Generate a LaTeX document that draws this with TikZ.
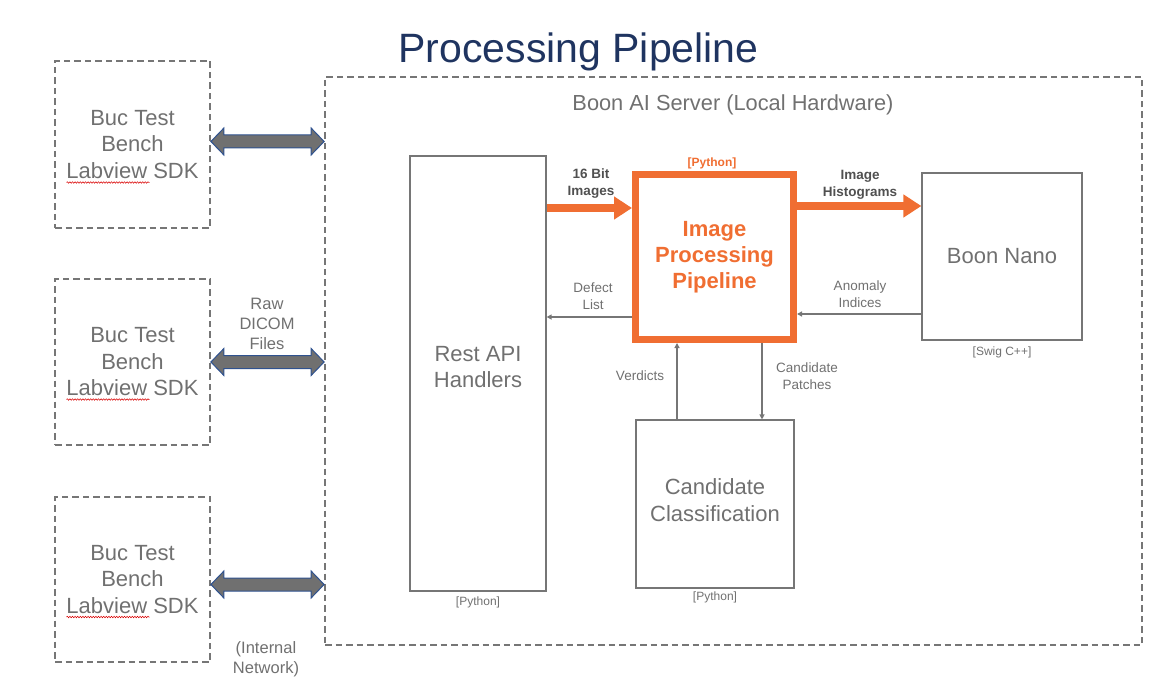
\documentclass[tikz,border=0pt]{standalone}
\usepackage{fontspec}
\setmainfont{Liberation Sans}
\usetikzlibrary{arrows.meta,calc,decorations.pathmorphing}
\definecolor{txtgrey}{RGB}{112,112,112}
\definecolor{boxgrey}{RGB}{118,118,118}
\definecolor{navy}{RGB}{31,52,96}
\definecolor{orng}{RGB}{240,110,50}
\definecolor{lblgrey}{RGB}{80,80,80}
\definecolor{arrblue}{RGB}{47,82,143}
\definecolor{arrfill}{RGB}{112,112,112}
\newcommand\dblarr[2]{\filldraw[dblarrow] (#1) -- ($(#1)+(13,-13.5)$) -- ($(#1)+(13,-6.5)$) -- ($(#2)+(-13,-6.5)$) -- ($(#2)+(-13,-13.5)$) -- (#2) -- ($(#2)+(-13,13.5)$) -- ($(#2)+(-13,6.5)$) -- ($(#1)+(13,6.5)$) -- ($(#1)+(13,13.5)$) -- cycle;}
\begin{document}
\begin{tikzpicture}[x=1pt,y=-1pt,
  dashbox/.style={draw=boxgrey,dash pattern=on 6.5pt off 4pt,line width=1.8pt,inner sep=0pt},
  solidbox/.style={draw=boxgrey,line width=1.2pt,inner sep=0pt},
  bigtxt/.style={text=txtgrey,align=center,font=\fontsize{22}{26.5}\selectfont},
  smalltxt/.style={text=txtgrey,align=center,font=\fontsize{12}{14}\selectfont,inner sep=0pt},
  lbltxt/.style={text=txtgrey,align=center,font=\fontsize{13.5}{16.5}\selectfont,inner sep=0pt},
  boldlbl/.style={text=lblgrey,align=center,font=\bfseries\fontsize{13.5}{17}\selectfont,inner sep=0pt},
  midtxt/.style={text=txtgrey,align=center,font=\fontsize{16.5}{20}\selectfont,inner sep=0pt},
  dblarrow/.style={fill=arrfill,draw=arrblue,line width=1pt,line join=miter},
  bigarrow/.style={draw=orng,line width=8pt,-{Triangle[length=18pt,width=22pt]}},
  thinarrow/.style={draw=boxgrey,line width=1.3pt,-{Triangle[length=5pt,width=5pt]}},
  squig/.style={draw=red!85!black,line width=0.5pt,decorate,decoration={snake,amplitude=0.8pt,segment length=2.6pt}}]
\useasboundingbox (0,0) rectangle (1175,695);

% title
\node[anchor=base,text=navy,font=\fontsize{41}{46}\selectfont,inner sep=0pt] (title) at (578.5,63) {Processing Pipeline};

% left boxes
\node[dashbox,minimum width=155pt,minimum height=167pt,bigtxt] (b1) at (132.5,144.5) {Buc Test\\Bench\\Labview SDK};
\node[dashbox,minimum width=155pt,minimum height=166pt,bigtxt] (b2) at (132.5,362) {Buc Test\\Bench\\Labview SDK};
\node[dashbox,minimum width=155pt,minimum height=165pt,bigtxt] (b3) at (132.5,579.5) {Buc Test\\Bench\\Labview SDK};
\draw[squig] ($(b1.center)+(-66,38)$) -- ($(b1.center)+(17,38)$);
\draw[squig] ($(b2.center)+(-66,37.5)$) -- ($(b2.center)+(17,37.5)$);
\draw[squig] ($(b3.center)+(-66,37.5)$) -- ($(b3.center)+(17,37.5)$);

% server
\node[dashbox,minimum width=817pt,minimum height=568pt] (srv) at (733.5,361) {};
\node[text=txtgrey,font=\fontsize{21.8}{24}\selectfont,inner sep=0pt] (srvlbl) at (733,105) {Boon AI Server (Local Hardware)};

% double arrows
\path (0,141.5) coordinate (h1) (0,362) coordinate (h2) (0,584.5) coordinate (h3);
\dblarr{b1.east |- h1}{srv.west |- h1}
\dblarr{b2.east |- h2}{srv.west |- h2}
\dblarr{b3.east |- h3}{srv.west |- h3}
\node[midtxt] (raw) at (267,324) {Raw\\DICOM\\Files};
\node[midtxt] (net) at (266,659) {(Internal\\Network)};

% inner boxes
\node[solidbox,minimum width=136pt,minimum height=435pt] (rest) at (478,373.5) {};
\node[bigtxt,inner sep=0pt] (restlbl) at (478,367) {Rest API\\Handlers};
\node[smalltxt] (restpy) at (478,602) {[Python]};

\node[draw=orng,line width=7pt,minimum width=158pt,minimum height=165pt,inner sep=0pt,
      text=orng,align=center,font=\bfseries\fontsize{22}{26}\selectfont] (ipp) at (714.5,257) {Image\\Processing\\Pipeline};
\node[text=orng,font=\bfseries\fontsize{12}{14}\selectfont,inner sep=0pt] (ipppy) at (712,163) {[Python]};

\node[solidbox,minimum width=160pt,minimum height=167pt,bigtxt] (nano) at (1002,256.5) {Boon Nano};
\node[smalltxt] (nanocpp) at (1002,352) {[Swig C++]};

\node[solidbox,minimum width=158pt,minimum height=168pt] (cand) at (715,504) {};
\node[bigtxt,inner sep=0pt] (candlbl) at (715,500) {Candidate\\Classification};
\node[smalltxt] (candpy) at (715,597) {[Python]};

% connectors
\path (0,208) coordinate (y16) (0,206) coordinate (yhist) (0,317) coordinate (ydef) (0,314) coordinate (yano)
      (677,0) coordinate (xver) (762,0) coordinate (xpat);
\draw[bigarrow] (rest.east |- y16) -- (ipp.west |- y16);
\draw[bigarrow] (ipp.east |- yhist) -- (nano.west |- yhist);
\draw[thinarrow] (ipp.west |- ydef) -- (rest.east |- ydef);
\draw[thinarrow] (nano.west |- yano) -- (ipp.east |- yano);
\draw[thinarrow] (xver |- cand.north) -- (xver |- ipp.south);
\draw[thinarrow] (xpat |- ipp.south) -- (xpat |- cand.north);

% connector labels
\node[boldlbl] (l16) at (591,184) {16 Bit\\Images};
\node[boldlbl] (lhist) at (860,185) {Image\\Histograms};
\node[lbltxt] (ldef) at (593,296) {Defect\\List};
\node[lbltxt] (lano) at (860,294) {Anomaly\\Indices};
\node[lbltxt] (lver) at (640,376) {Verdicts};
\node[lbltxt] (lpat) at (807,376) {Candidate\\Patches};
\end{tikzpicture}
\end{document}
